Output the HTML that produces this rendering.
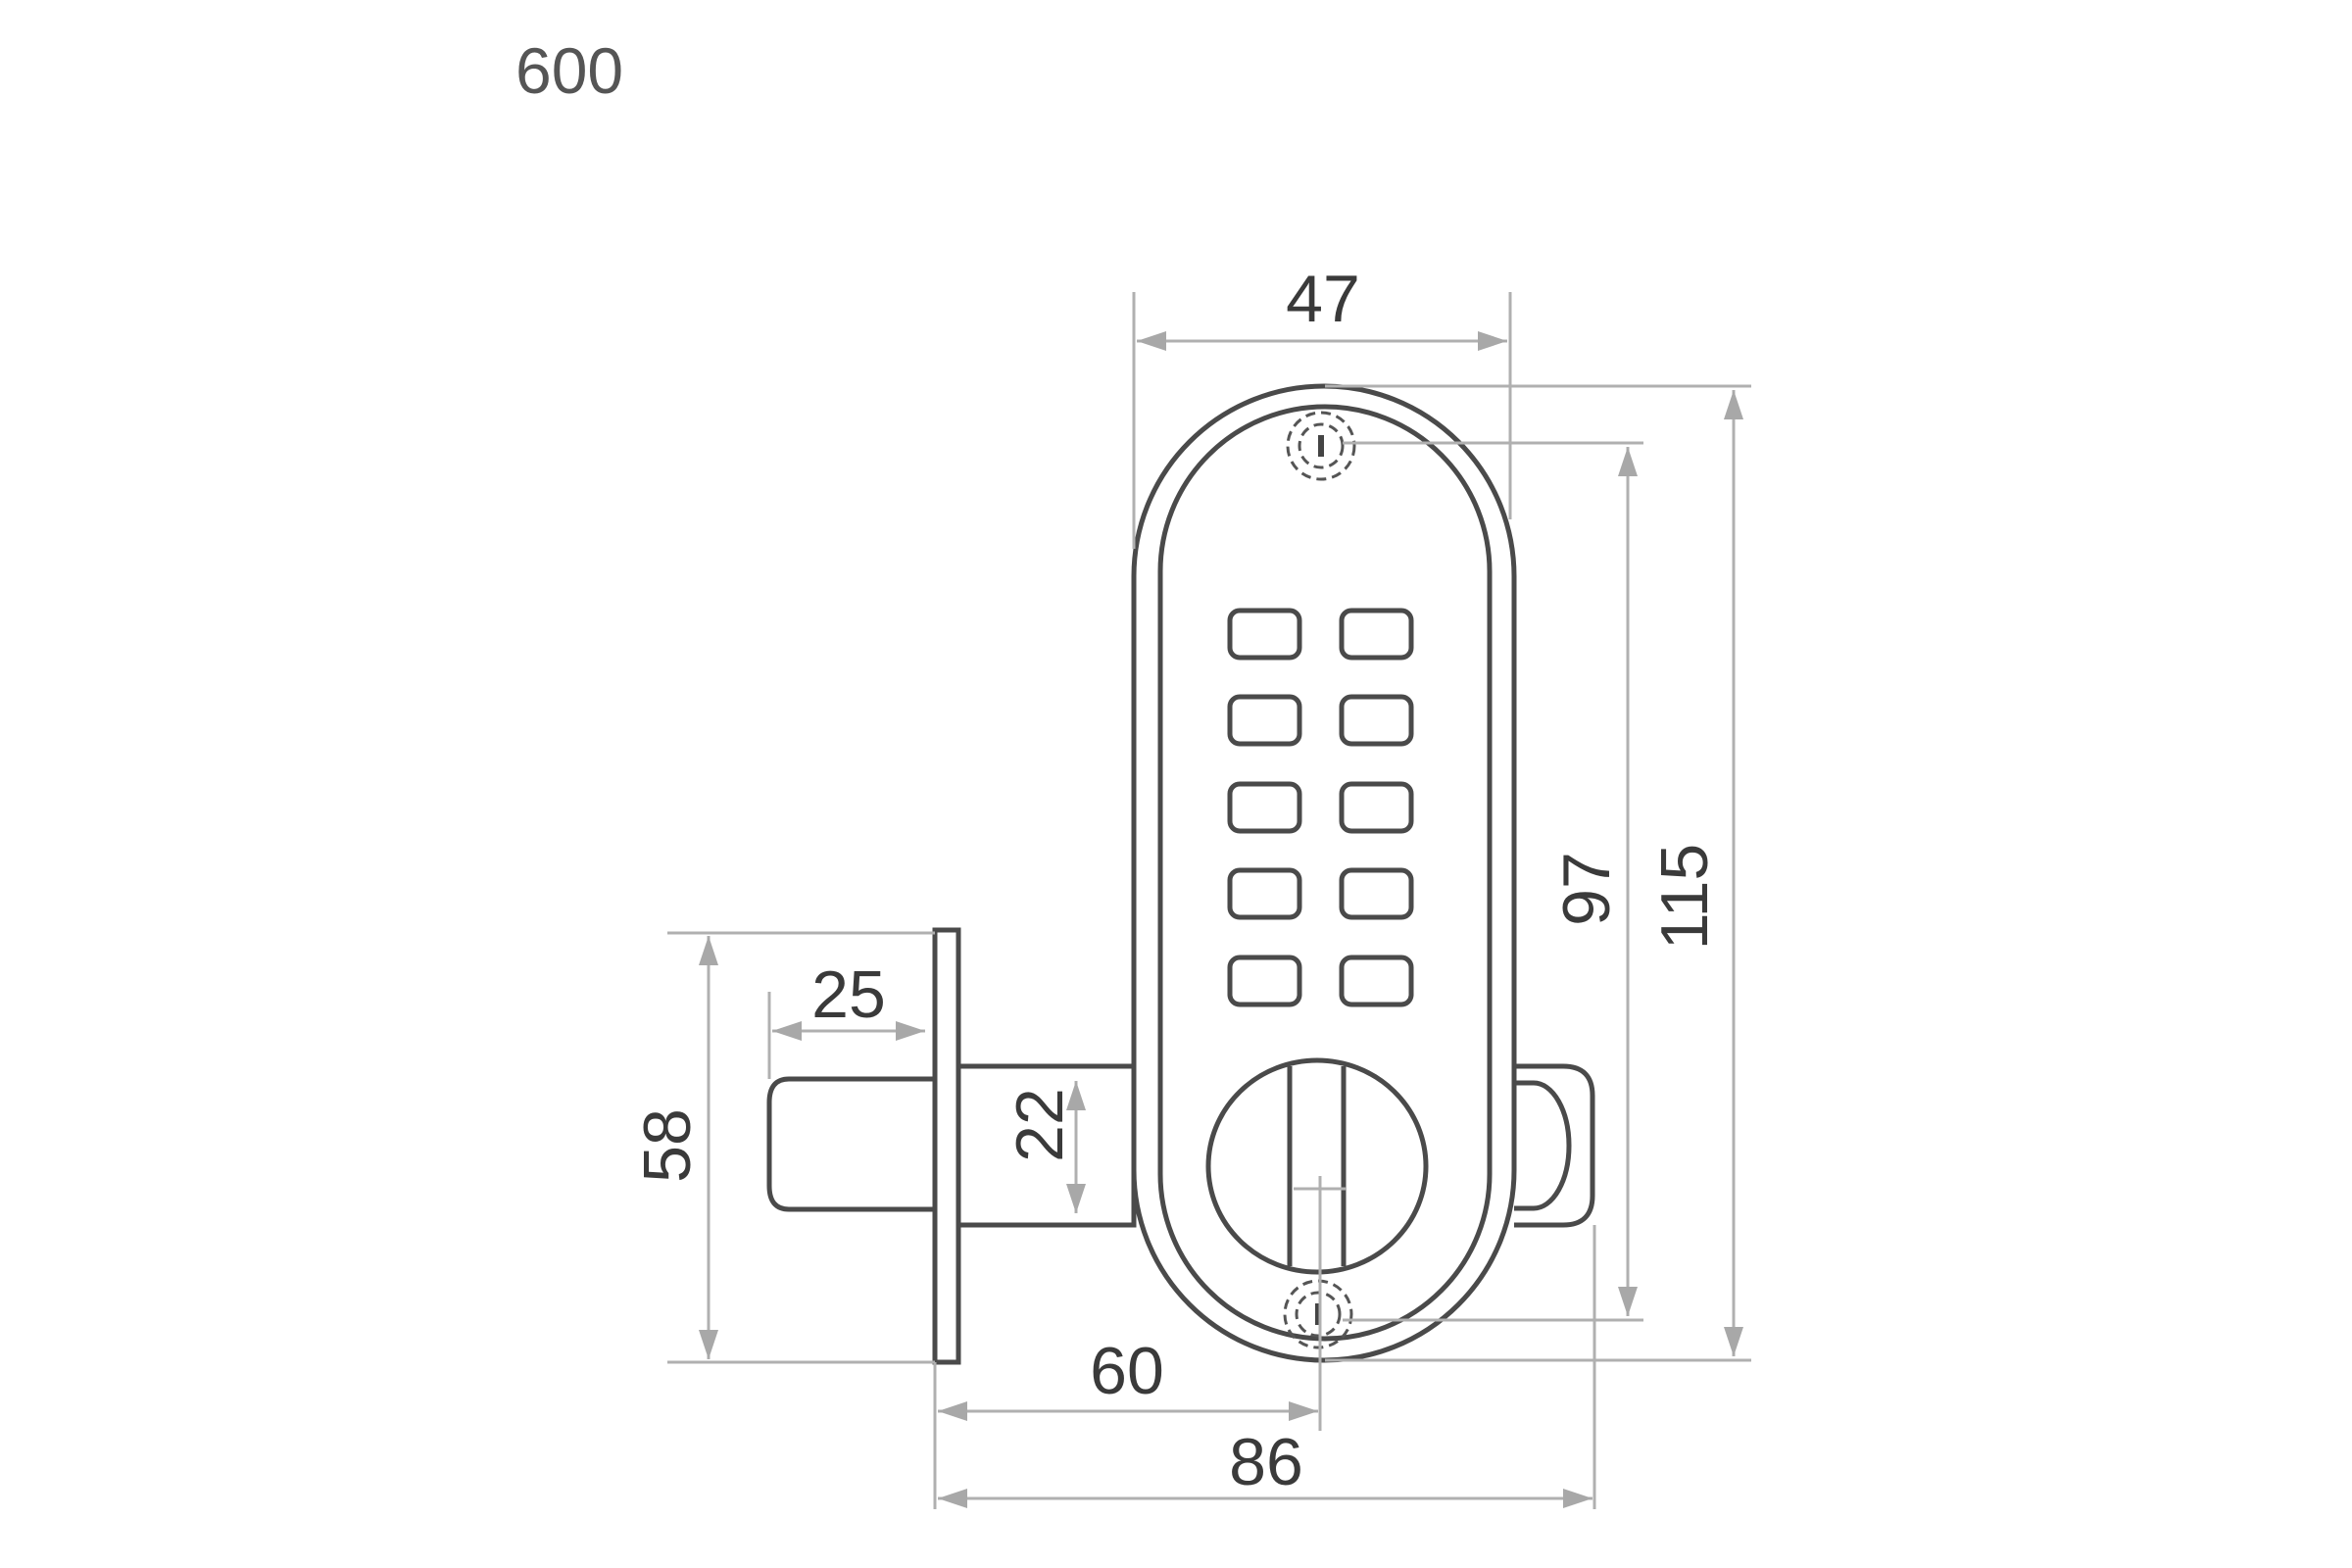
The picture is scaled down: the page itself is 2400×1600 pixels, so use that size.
<!DOCTYPE html>
<html><head><meta charset="utf-8"><style>
html,body{margin:0;padding:0;background:#fff;}
svg{display:block;}
text{font-family:"Liberation Sans Narrow","Liberation Sans",sans-serif;fill:#3a3a3a;font-size:68px;}
</style></head><body>
<svg width="2400" height="1600" viewBox="0 0 2400 1600" xmlns="http://www.w3.org/2000/svg">
<defs>
<marker id="a" viewBox="0 0 30 20" refX="30" refY="10" markerWidth="30" markerHeight="20" markerUnits="userSpaceOnUse" orient="auto-start-reverse">
<path d="M0,0 L30,10 L0,20 Z" fill="#a8a8a8"/></marker>
</defs>
<text x="526" y="95" style="font-size:66px;fill:#555">600</text>

<g stroke="#4a4a4a" stroke-width="5" fill="#fff">
<path d="M954,1101 L805,1101 Q785,1101 785,1125 L785,1210 Q785,1234 805,1234 L954,1234"/>
<rect x="978" y="1088" width="179" height="162" fill="#fff"/>
<path d="M1545,1088 L1595,1088 Q1625,1088 1625,1118 L1625,1220 Q1625,1250 1595,1250 L1545,1250"/>
<path d="M1545,1105 L1565,1105 A36,64 0 0 1 1565,1233 L1545,1233" fill="none"/>
<rect x="954" y="949" width="24" height="441"/>
<rect x="1157" y="394" width="388" height="994" rx="194"/>
<rect x="1184" y="415" width="336" height="951" rx="168"/>
</g>
<g stroke="#4a4a4a" stroke-width="5" fill="none">
<rect x="1255" y="623" width="71" height="48" rx="10"/><rect x="1369" y="623" width="71" height="48" rx="10"/>
<rect x="1255" y="711" width="71" height="48" rx="10"/><rect x="1369" y="711" width="71" height="48" rx="10"/>
<rect x="1255" y="800" width="71" height="48" rx="10"/><rect x="1369" y="800" width="71" height="48" rx="10"/>
<rect x="1255" y="888" width="71" height="48" rx="10"/><rect x="1369" y="888" width="71" height="48" rx="10"/>
<rect x="1255" y="977" width="71" height="48" rx="10"/><rect x="1369" y="977" width="71" height="48" rx="10"/>
<ellipse cx="1344" cy="1190" rx="111" ry="108"/>
<line x1="1316" y1="1088" x2="1316" y2="1292"/>
<line x1="1371" y1="1088" x2="1371" y2="1292"/>
</g>
<g stroke="#555" stroke-width="3" fill="none" stroke-dasharray="10 6">
<circle cx="1348" cy="455" r="34"/><circle cx="1348" cy="455" r="22"/>
<circle cx="1345" cy="1341" r="34"/><circle cx="1345" cy="1341" r="22"/>
</g>
<g stroke="#444" stroke-width="6">
<line x1="1348" y1="444" x2="1348" y2="466"/><line x1="1345" y1="1330" x2="1345" y2="1352"/>
</g>

<g stroke="#b0b0b0" stroke-width="3" fill="none">
<line x1="1157" y1="298" x2="1157" y2="560"/>
<line x1="1541" y1="298" x2="1541" y2="530"/>
<line x1="1160" y1="348" x2="1538" y2="348" marker-start="url(#a)" marker-end="url(#a)"/>
<line x1="1352" y1="394" x2="1787" y2="394"/>
<line x1="1352" y1="1388" x2="1787" y2="1388"/>
<line x1="1769" y1="398" x2="1769" y2="1384" marker-start="url(#a)" marker-end="url(#a)"/>
<line x1="1370" y1="452" x2="1677" y2="452"/>
<line x1="1370" y1="1347" x2="1677" y2="1347"/>
<line x1="1661" y1="456" x2="1661" y2="1343" marker-start="url(#a)" marker-end="url(#a)"/>
<line x1="681" y1="952" x2="954" y2="952"/>
<line x1="681" y1="1390" x2="954" y2="1390"/>
<line x1="723" y1="955" x2="723" y2="1387" marker-start="url(#a)" marker-end="url(#a)"/>
<line x1="785" y1="1012" x2="785" y2="1101"/>
<line x1="788" y1="1052" x2="944" y2="1052" marker-start="url(#a)" marker-end="url(#a)"/>
<line x1="1098" y1="1103" x2="1098" y2="1238" marker-start="url(#a)" marker-end="url(#a)"/>
<line x1="954" y1="1390" x2="954" y2="1540"/>
<line x1="1347" y1="1200" x2="1347" y2="1460"/>
<line x1="1320" y1="1213" x2="1374" y2="1213"/>
<line x1="1627" y1="1250" x2="1627" y2="1540"/>
<line x1="957" y1="1440" x2="1345" y2="1440" marker-start="url(#a)" marker-end="url(#a)"/>
<line x1="957" y1="1529" x2="1625" y2="1529" marker-start="url(#a)" marker-end="url(#a)"/>
</g>

<text x="1350" y="328" text-anchor="middle">47</text>
<text x="866" y="1038" text-anchor="middle">25</text>
<text x="1150" y="1422" text-anchor="middle">60</text>
<text x="1292" y="1515" text-anchor="middle">86</text>
<text transform="translate(704,1169) rotate(-90)" text-anchor="middle">58</text>
<text transform="translate(1084,1148) rotate(-90)" text-anchor="middle">22</text>
<text transform="translate(1642,907) rotate(-90)" text-anchor="middle">97</text>
<text transform="translate(1742,915) rotate(-90)" text-anchor="middle">115</text>
</svg>
</body></html>
